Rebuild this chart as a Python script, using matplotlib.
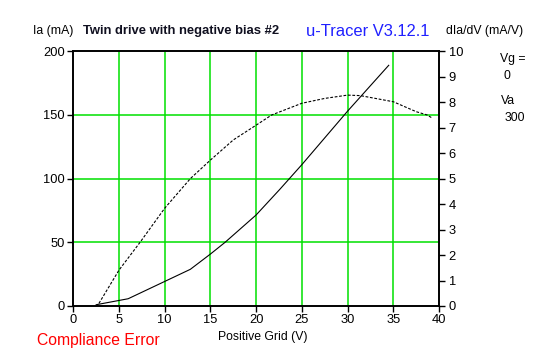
import matplotlib
matplotlib.use("Agg")
import matplotlib.pyplot as plt

# Data
ia_x = [2.5, 6.0, 12.8, 15.0, 16.6, 20.0, 22.6, 25.0, 30.0, 34.5]
ia_y = [1.0, 5.7, 28.8, 40.8, 50.0, 71.5, 91.7, 111.0, 153.0, 189.0]

dv_x = [2.8, 5.0, 7.3, 10.0, 12.8, 15.0, 17.5, 20.0, 21.7, 25.0, 27.5, 30.0, 31.4, 35.0, 37.5, 38.7, 39.3]
dv_y = [0.1, 1.41, 2.5, 3.84, 5.0, 5.73, 6.52, 7.1, 7.5, 7.96, 8.15, 8.28, 8.26, 8.02, 7.63, 7.5, 7.37]

x_ticks = [0, 5, 10, 15, 20, 25, 30, 35, 40]
left_ticks = [0, 50, 100, 150, 200]
right_ticks = list(range(0, 11))

plt.rcParams['font.family'] = ['Liberation Sans', 'DejaVu Sans']

W, H = 547, 357
fig = plt.figure(figsize=(W / 100, H / 100), dpi=100)
fig.patch.set_facecolor('white')

x0, x1 = 73.3, 439.0
y0, y1 = 306.0, 51.3
ax = fig.add_axes([x0 / W, 1 - y0 / H, (x1 - x0) / W, (y0 - y1) / H])
ax.set_xlim(0, 40)
ax.set_ylim(0, 200)

# grid
for gx in x_ticks[1:-1]:
    ax.axvline(gx, color='#00e000', lw=1.1, zorder=1)
for gy in [50, 100, 150]:
    ax.axhline(gy, color='#00e000', lw=1.1, zorder=1)

ax.plot(ia_x, ia_y, color='black', lw=0.8, zorder=3)

ax.set_xticks(x_ticks)
ax.set_yticks(left_ticks)
ax.tick_params(axis='both', direction='out', length=4, width=1, labelsize=9.3, pad=2, colors='black')
for s in ax.spines.values():
    s.set_color('black')
    s.set_linewidth(1.2)

ax2 = ax.twinx()
ax2.set_ylim(0, 10)
ax2.set_yticks(right_ticks)
ax2.tick_params(axis='y', direction='out', length=4, width=1, labelsize=9.3, pad=3)
ax2.plot(dv_x, dv_y, color='black', lw=0.8, linestyle=(0, (2.5, 1.5)), zorder=3)
for s in ax2.spines.values():
    s.set_linewidth(1.2)

# texts
fig.text(33 / W, 1 - 31 / H, 'Ia (mA)', fontsize=8.8, va='center', ha='left')
fig.text(83 / W, 1 - 31 / H, 'Twin drive with negative bias #2', fontsize=9.4,
         fontweight='bold', va='center', ha='left', color='#101020')
fig.text(306 / W, 1 - 31 / H, 'u-Tracer V3.12.1', fontsize=11.9, va='center', ha='left', color='#2020ff')
fig.text(446 / W, 1 - 31 / H, 'dIa/dV (mA/V)', fontsize=8.8, va='center', ha='left')
fig.text(500 / W, 1 - 59 / H, 'Vg =', fontsize=8.8, va='center', ha='left')
fig.text(504 / W, 1 - 76 / H, '0', fontsize=8.8, va='center', ha='left')
fig.text(501 / W, 1 - 101 / H, 'Va', fontsize=8.8, va='center', ha='left')
fig.text(505 / W, 1 - 118 / H, '300', fontsize=8.8, va='center', ha='left')
fig.text(218 / W, 1 - 337 / H, 'Positive Grid (V)', fontsize=8.8, va='center', ha='left')
fig.text(37 / W, 1 - 341 / H, 'Compliance Error', fontsize=11.3, va='center', ha='left', color='red')

fig.savefig('out.png', dpi=100, facecolor='white')
